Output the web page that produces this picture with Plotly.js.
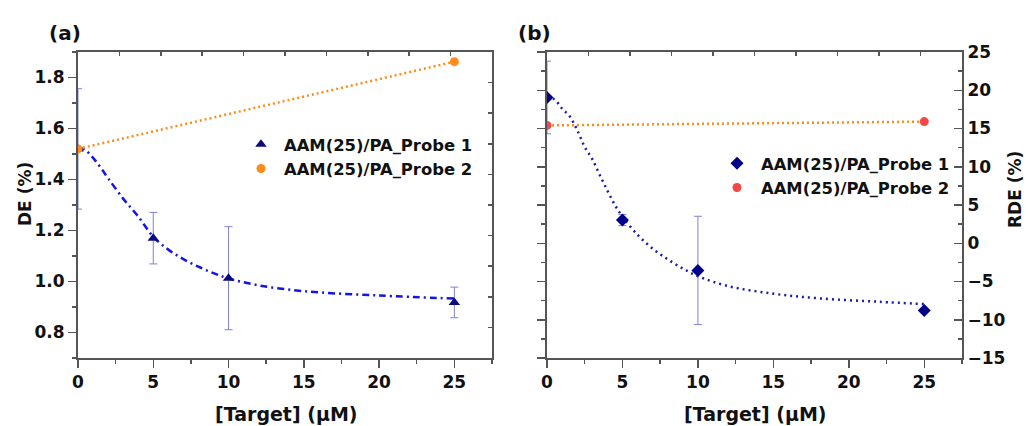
<!DOCTYPE html>
<html>
<head>
<meta charset="utf-8">
<script src="https://cdn.plot.ly/plotly-3.0.1.min.js"></script>
<style>html,body{margin:0;padding:0;background:#fff;}#chart{width:1028px;height:426px;}</style>
</head>
<body>
<div id="chart"></div>
<script>
// ---- data ----
const conc = [0, 5, 10, 25];
const concEnds = [0, 25];
const deProbe1 = [1.52, 1.17, 1.013, 0.918];
const deProbe1Err = [0.236, 0.101, 0.202, 0.06];
const deProbe2 = [1.52, 1.862];
const deFitX = [0, 0.5, 1, 1.5, 2, 3, 4, 5, 6, 7, 8, 9, 10, 12, 15, 20, 25];
const deFitY = [1.528, 1.515, 1.485, 1.447, 1.405, 1.325, 1.255, 1.175, 1.125, 1.088, 1.058, 1.033, 1.012, 0.985, 0.962, 0.945, 0.933];
const rdeProbe1 = [19.05, 3.03, -3.55, -8.8];
const rdeProbe1Err = [4.75, 0.72, 7.08, 0];
const rdeProbe2 = [15.4, 15.9];
const rdeFitX = [0, 0.5, 1, 1.5, 2, 2.5, 3, 3.5, 4, 4.5, 5, 6, 7, 8, 9, 10, 12, 15, 18, 22, 25];
const rdeFitY = [19.1, 18.8, 17.6, 16.6, 14.8, 12.6, 11.0, 8.9, 6.9, 5.0, 3.5, 1.1, -0.7, -2.1, -3.3, -4.3, -5.6, -6.6, -7.2, -7.65, -7.95];
const seriesNames = ['AAM(25)/PA_Probe 1', 'AAM(25)/PA_Probe 2'];
const xTitle = '[Target] (\u03bcM)';
const yTitleA = 'DE (%)';
const yTitleB = 'RDE (%)';
const panelLabels = ['(a)', '(b)'];

// ---- style ----
const FONT = 'DejaVu Sans';
const axisCol = '#555555';
const navy = '#0b0b80';
const errCol = '#8080d8';
const orange = '#ff8c1a';
const redPt = '#f24848';
const W = 1028, H = 426;
const domA = [78 / W, 492 / W];
const domB = [547 / W, 962 / W];
const domY = [1 - 358 / H, 1 - 52 / H];

const traces = [
  {x: deFitX, y: deFitY, xaxis: 'x', yaxis: 'y', mode: 'lines', line: {shape: 'spline', color: '#1414e6', width: 2.5, dash: '7px,4px,2px,4px'}, showlegend: false, hoverinfo: 'skip'},
  {x: conc, y: deProbe1, xaxis: 'x', yaxis: 'y', mode: 'markers', name: seriesNames[0], legend: 'legend',
   marker: {symbol: 'triangle-up', size: 10, color: navy},
   error_y: {type: 'data', array: deProbe1Err, visible: true, color: errCol, thickness: 1, width: 4}},
  {x: concEnds, y: deProbe2, xaxis: 'x', yaxis: 'y', mode: 'lines', line: {color: orange, width: 2.5, dash: '2px,3px'}, showlegend: false, hoverinfo: 'skip'},
  {x: concEnds, y: deProbe2, xaxis: 'x', yaxis: 'y', mode: 'markers', name: seriesNames[1], legend: 'legend',
   marker: {symbol: 'circle', size: 9, color: orange}},
  {x: rdeFitX, y: rdeFitY, xaxis: 'x2', yaxis: 'y2', mode: 'lines', line: {shape: 'spline', color: '#1a1aa8', width: 2.5, dash: '2px,4px'}, showlegend: false, hoverinfo: 'skip'},
  {x: concEnds, y: rdeProbe2, xaxis: 'x2', yaxis: 'y2', mode: 'lines', line: {color: orange, width: 2.5, dash: '2px,3px'}, showlegend: false, hoverinfo: 'skip'},
  {x: conc, y: rdeProbe1, xaxis: 'x2', yaxis: 'y2', mode: 'markers', name: seriesNames[0], legend: 'legend2',
   marker: {symbol: 'diamond', size: 10, color: '#00008b'},
   error_y: {type: 'data', array: rdeProbe1Err, visible: true, color: errCol, thickness: 1, width: 4}},
  {x: concEnds, y: rdeProbe2, xaxis: 'x2', yaxis: 'y2', mode: 'markers', name: seriesNames[1], legend: 'legend2',
   marker: {symbol: 'circle', size: 9, color: redPt}},
  // empty traces to host the frame axes
  {x: [], y: [], xaxis: 'x3', yaxis: 'y3', showlegend: false, hoverinfo: 'skip'},
  {x: [], y: [], xaxis: 'x4', yaxis: 'y4', showlegend: false, hoverinfo: 'skip'}
];

const tickFont = {family: FONT, size: 17, color: '#111', weight: 700};
const base = {showline: true, linecolor: axisCol, linewidth: 2, tickcolor: axisCol, tickwidth: 1.5, showgrid: false, zeroline: false, automargin: false, fixedrange: true};

const xMain = (dom, anchor) => Object.assign({}, base, {domain: dom, anchor: anchor, range: [0, 27.5], tick0: 0, dtick: 5, ticks: 'outside', ticklen: 8, tickfont: tickFont,
  minor: {dtick: 2.5, ticks: 'outside', ticklen: 4, tickcolor: axisCol, tickwidth: 1.5, showgrid: false}});
const xTop = (over, anchor) => Object.assign({}, base, {overlaying: over, anchor: anchor, side: 'top', range: [0, 27.5], tick0: 0, dtick: 2.75, ticks: 'inside', ticklen: 4, showticklabels: false});

const legendBase = {xanchor: 'left', yanchor: 'top', bgcolor: 'rgba(0,0,0,0)', borderwidth: 0,
  font: {family: FONT, size: 16.4, color: '#111', weight: 700}, tracegroupgap: 0};

const layout = {
  width: W, height: H,
  margin: {l: 0, r: 0, t: 0, b: 0},
  paper_bgcolor: '#fff', plot_bgcolor: 'rgba(0,0,0,0)',
  font: {family: FONT, color: '#111'},
  xaxis: xMain(domA, 'y'),
  yaxis: Object.assign({}, base, {domain: domY, anchor: 'x', range: [0.7, 1.9], tick0: 0.8, dtick: 0.2, tickformat: '.1f', ticks: 'outside', ticklen: 8, tickfont: tickFont,
    minor: {dtick: 0.1, ticks: 'outside', ticklen: 4, tickcolor: axisCol, tickwidth: 1.5, showgrid: false}}),
  xaxis3: xTop('x', 'y'),
  yaxis3: Object.assign({}, base, {overlaying: 'y', anchor: 'x', side: 'right', range: [0.7, 1.9], tick0: 0.7, dtick: 0.12, ticks: 'inside', ticklen: 4, showticklabels: false}),
  xaxis2: xMain(domB, 'y2'),
  yaxis2: Object.assign({}, base, {domain: domY, anchor: 'x2', side: 'right', range: [-15, 25], tick0: -15, dtick: 5, ticks: 'inside', ticklen: 8, tickfont: tickFont,
    minor: {dtick: 2.5, ticks: 'inside', ticklen: 4, tickcolor: axisCol, tickwidth: 1.5, showgrid: false}}),
  xaxis4: xTop('x2', 'y2'),
  yaxis4: Object.assign({}, base, {overlaying: 'y2', anchor: 'x2', side: 'left', range: [-15, 25], tick0: -15, dtick: 5, ticks: 'outside', ticklen: 8, showticklabels: false,
    minor: {dtick: 2.5, ticks: 'outside', ticklen: 4, tickcolor: axisCol, tickwidth: 1.5, showgrid: false}}),
  legend: Object.assign({}, legendBase, {x: 238 / W, y: 1 - 127 / H, itemwidth: 36}),
  legend2: Object.assign({}, legendBase, {x: 713 / W, y: 1 - 146 / H, itemwidth: 38}),
  annotations: [
    {text: yTitleA, x: 25 / W, y: 1 - 194 / H, textangle: -90, font: {family: FONT, size: 17, color: '#111', weight: 700}},
    {text: yTitleB, x: 1015 / W, y: 1 - 190 / H, textangle: -90, font: {family: FONT, size: 17, color: '#111', weight: 700}},
    {text: xTitle, x: 286 / W, y: 1 - 414 / H},
    {text: xTitle, x: 755 / W, y: 1 - 414 / H},
    {text: panelLabels[0], x: 65 / W, y: 1 - 33 / H, font: {family: FONT, size: 20, color: '#111', weight: 700}},
    {text: panelLabels[1], x: 534 / W, y: 1 - 33 / H, font: {family: FONT, size: 20, color: '#111', weight: 700}}
  ].map(a => Object.assign({xref: 'paper', yref: 'paper', xanchor: 'center', yanchor: 'middle', showarrow: false,
    font: {family: FONT, size: 19, color: '#111', weight: 700}}, a))
};

Plotly.newPlot('chart', traces, layout, {staticPlot: true, displayModeBar: false});
</script>
</body>
</html>
